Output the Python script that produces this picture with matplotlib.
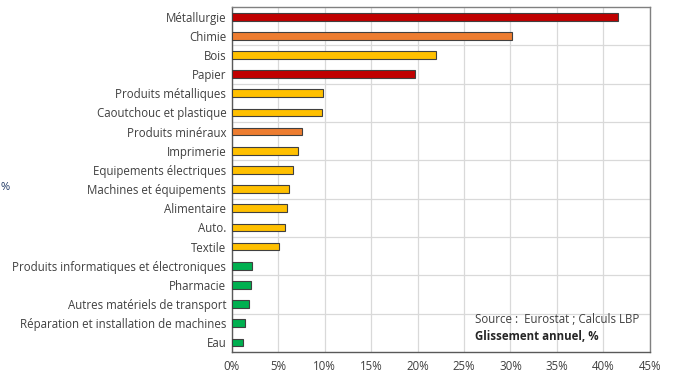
import matplotlib.pyplot as plt
import numpy as np

plt.rcParams['font.family'] = ['Open Sans', 'DejaVu Sans']

categories = ["Métallurgie", "Chimie", "Bois", "Papier", "Produits métalliques",
              "Caoutchouc et plastique", "Produits minéraux", "Imprimerie",
              "Equipements électriques", "Machines et équipements", "Alimentaire",
              "Auto.", "Textile", "Produits informatiques et électroniques",
              "Pharmacie", "Autres matériels de transport",
              "Réparation et installation de machines", "Eau"]
values = [41.6, 30.2, 22.0, 19.7, 9.8, 9.7, 7.6, 7.1, 6.6, 6.1, 5.9, 5.7, 5.1,
          2.15, 2.05, 1.8, 1.45, 1.2]
groups = ["red", "orange", "yellow", "red", "yellow", "yellow", "orange", "yellow",
          "yellow", "yellow", "yellow", "yellow", "yellow", "green", "green",
          "green", "green", "green"]

palette = {"red": "#C00000", "orange": "#ED7D31", "yellow": "#FFC000", "green": "#00B050"}

fig = plt.figure(figsize=(6.74, 3.74), dpi=100)
ax = fig.add_axes([0.344, 0.059, 0.62, 0.922])

y = np.arange(len(categories))
ax.barh(y, values, height=0.4, color=[palette[g] for g in groups],
        edgecolor="#404040", linewidth=0.8, zorder=3)

ax.set_xlim(0, 45)
ax.set_ylim(len(categories) - 0.5, -0.5)
ax.set_xticks(np.arange(0, 46, 5))
ax.set_xticklabels([f"{t}%" for t in range(0, 46, 5)])
ax.set_yticks(y)
ax.set_yticklabels(categories)
ax.tick_params(length=0, labelsize=8.3, colors="#404040", pad=4)
ax.tick_params(axis='x', pad=6)

ax.grid(axis='x', color="#d9d9d9", linewidth=0.9, zorder=0)
for yy in np.arange(1.5, len(categories) - 1, 2):
    ax.axhline(yy, color="#d9d9d9", linewidth=0.9, zorder=0)

for side in ("top", "right"):
    ax.spines[side].set_color("#808080")
for side in ("left", "bottom"):
    ax.spines[side].set_color("#595959")
for s in ax.spines.values():
    s.set_linewidth(1.0)

ax.text(0.582, 0.085, "Source :  Eurostat ; Calculs LBP", transform=ax.transAxes,
        fontsize=8.3, color="#404040")
ax.text(0.582, 0.035, "Glissement annuel, %", transform=ax.transAxes,
        fontsize=8.3, color="#262626", fontweight="bold")

fig.text(0.001, 0.5, "%", fontsize=8, color="#1F3864", va="center")

fig.savefig("out.png", dpi=100)
